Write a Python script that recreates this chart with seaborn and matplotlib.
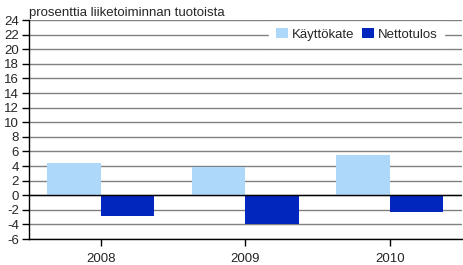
import matplotlib
matplotlib.use("Agg")
import matplotlib.pyplot as plt
import pandas as pd
import seaborn as sns

years = ["2008", "2009", "2010"]
kayttokate = [4.45, 3.8, 5.55]
nettotulos = [-2.85, -4.0, -2.3]
series = ["Käyttökate", "Nettotulos"]
colors = ["#ADD8FA", "#0026BE"]

df = pd.DataFrame({
    "vuosi": years * 2,
    "arvo": kayttokate + nettotulos,
    "sarja": [series[0]] * 3 + [series[1]] * 3,
})

sns.set_style("white")
plt.rcParams["font.family"] = ["Liberation Sans", "DejaVu Sans"]
plt.rcParams["axes.unicode_minus"] = False

fig = plt.figure(figsize=(4.63, 2.65), dpi=100)
ax = fig.add_axes([0.062, 0.098, 0.936, 0.8265])

sns.barplot(data=df, x="vuosi", y="arvo", hue="sarja", palette=colors,
            width=0.74, saturation=1, linewidth=0, ax=ax, zorder=3)

ax.set_ylim(-6, 24)
ax.set_yticks(range(-6, 25, 2))
ax.set_xlim(-0.5, 2.5)
ax.yaxis.grid(True, color="#808080", linewidth=1, zorder=0)
ax.set_axisbelow(True)
ax.axhline(0, color="black", linewidth=1, zorder=4)

for s in ["top", "right"]:
    ax.spines[s].set_visible(False)
for s in ["left", "bottom"]:
    ax.spines[s].set_color("black")
    ax.spines[s].set_linewidth(1)

ax.tick_params(axis="both", direction="out", length=5, width=1, color="black",
               labelsize=9.5, left=True, bottom=True, pad=2)
ax.tick_params(axis="x", pad=5)
ax.set_xlabel("")
ax.set_ylabel("")
fig.text(0.063, 0.975, "prosenttia liiketoiminnan tuotoista", fontsize=9.5,
         ha="left", va="top")

# legend sits on the 22 gridline, blanking it
leg = ax.legend(loc="center right", bbox_to_anchor=(0.95, 28 / 30), ncol=2,
                frameon=True, fontsize=9.5, handlelength=0.9, handleheight=0.7,
                handletextpad=0.3, columnspacing=0.6, borderpad=0.2,
                borderaxespad=0)
leg.get_frame().set_facecolor("white")
leg.get_frame().set_edgecolor("white")
leg.get_frame().set_alpha(1)
leg.get_frame().set_boxstyle("square", pad=0.3)

fig.savefig("out.png", dpi=100)
